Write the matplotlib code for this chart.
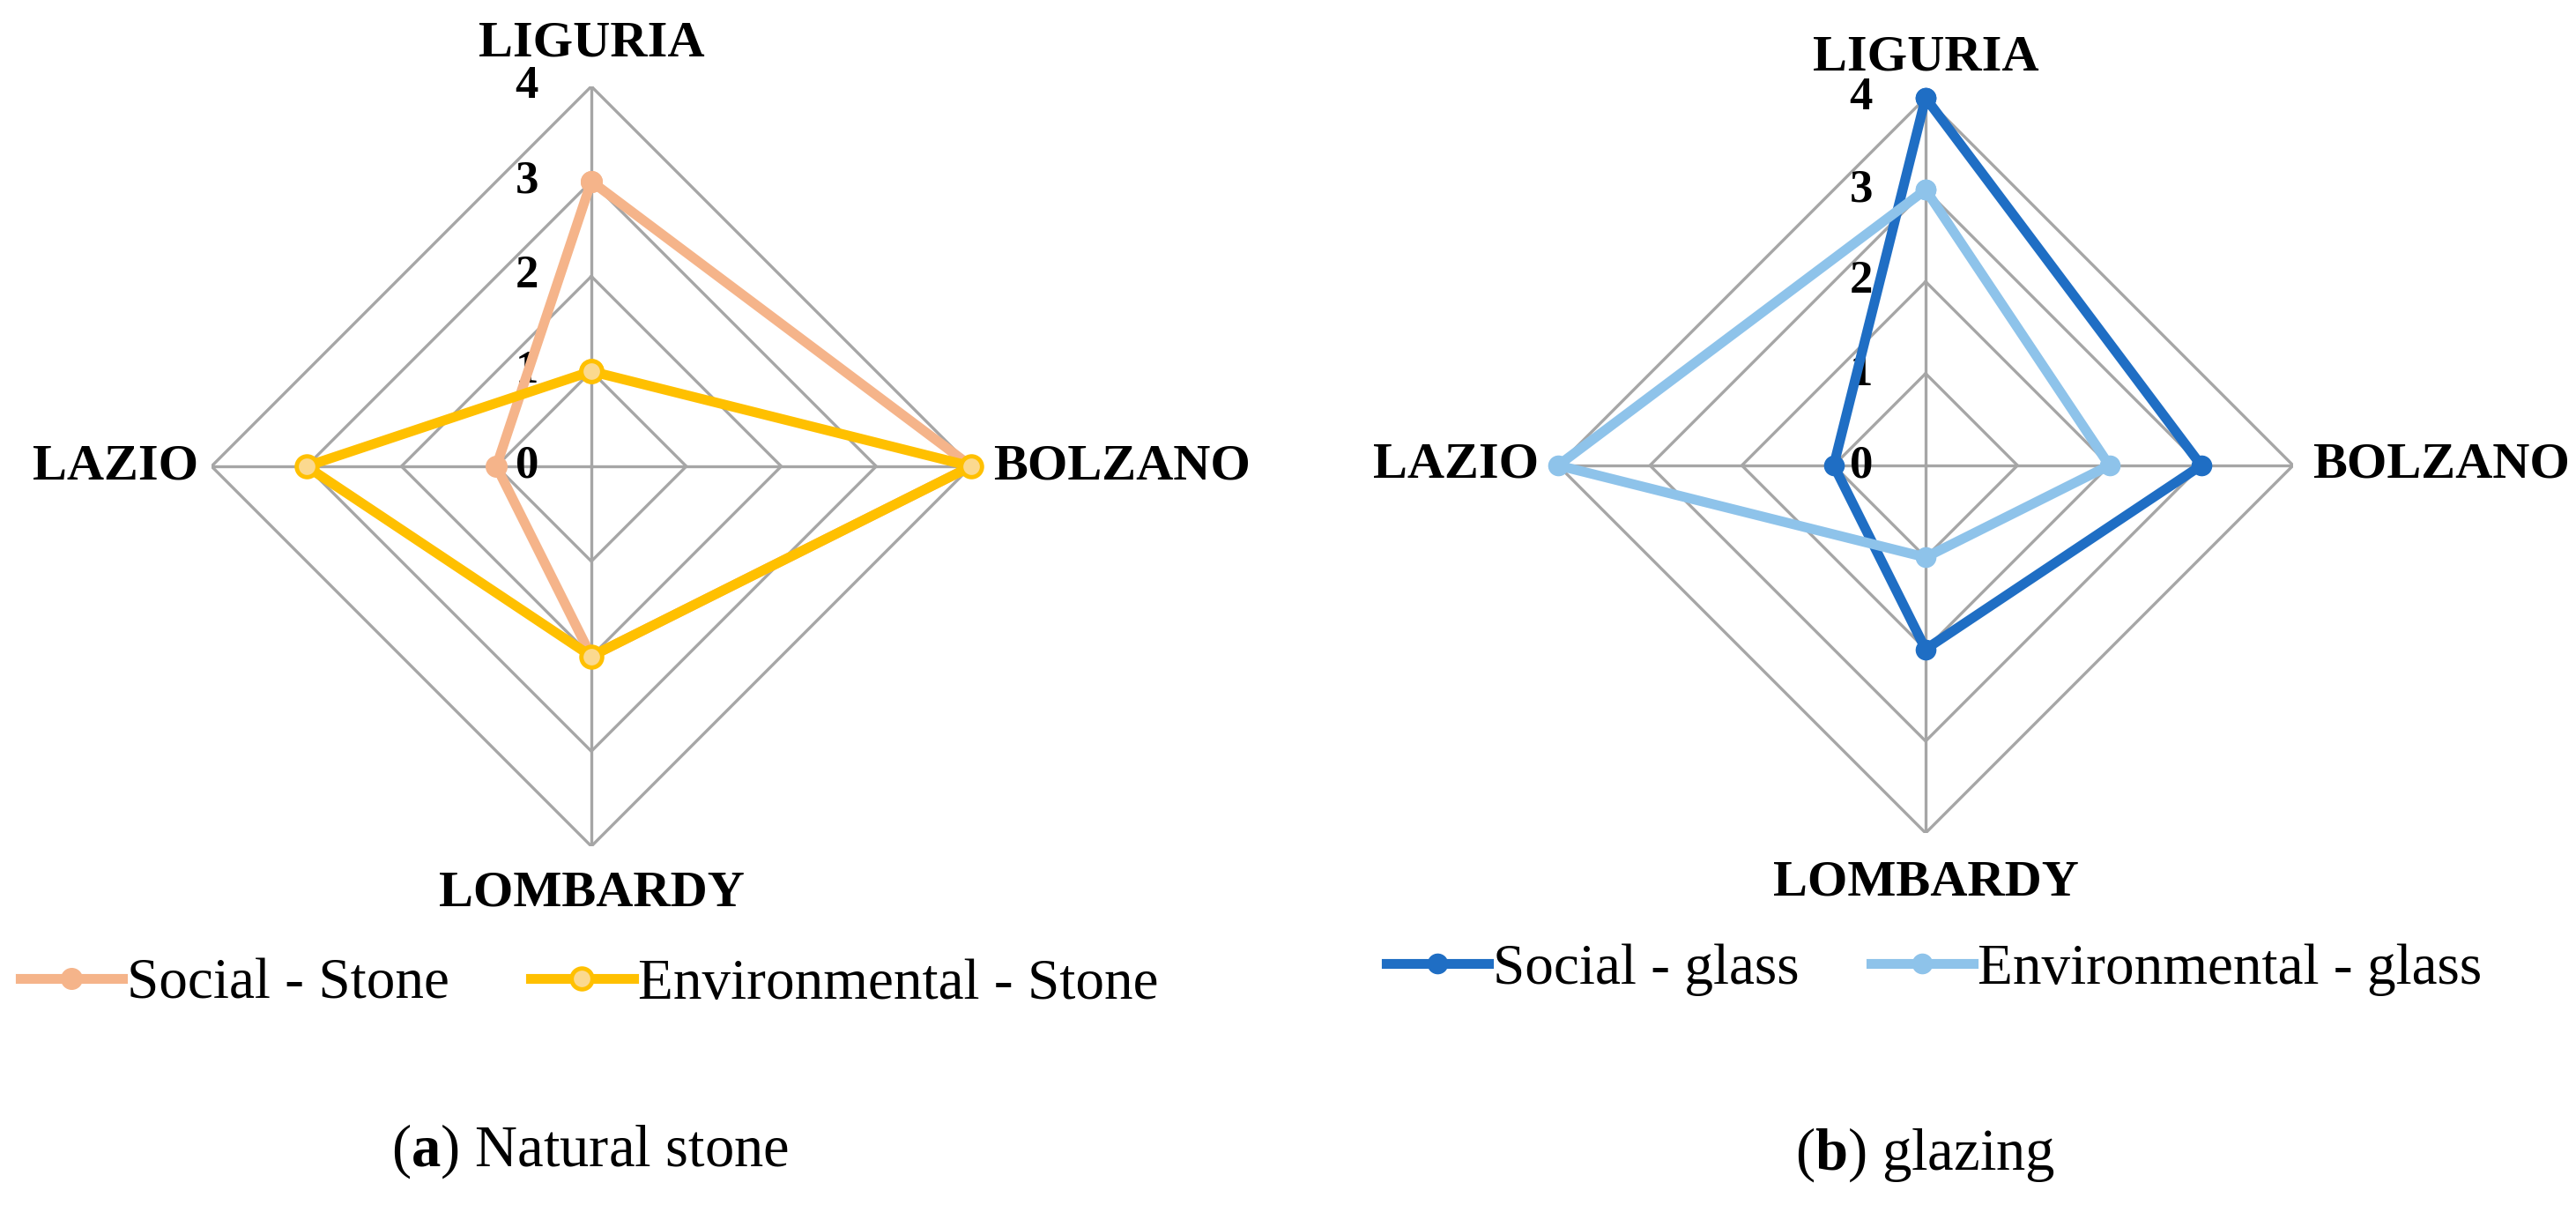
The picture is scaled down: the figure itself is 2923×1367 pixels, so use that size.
import numpy as np
import matplotlib
matplotlib.use("Agg")
import matplotlib.pyplot as plt

plt.rcParams['font.family'] = ['Liberation Serif', 'DejaVu Serif']
plt.rcParams['mathtext.fontset'] = 'custom'
plt.rcParams['mathtext.rm'] = 'Liberation Serif'
plt.rcParams['mathtext.bf'] = 'Liberation Serif:bold'

# data
regions = ['LIGURIA', 'BOLZANO', 'LOMBARDY', 'LAZIO']
ticks = [0, 1, 2, 3, 4]

social_stone = [3, 4, 2, 1]
env_stone = [1, 4, 2, 3]
social_glass = [4, 3, 2, 1]
env_glass = [3, 2, 1, 4]

labels_stone = ['Social - Stone', 'Environmental - Stone']
labels_glass = ['Social - glass', 'Environmental - glass']
captions = ['($\\mathbf{a}$) Natural stone', '($\\mathbf{b}$) glazing']

W, H = 2923, 1367
fig = plt.figure(figsize=(W / 100, H / 100), dpi=100)

angles = np.deg2rad([0, 90, 180, 270])
closed = np.append(angles, angles[0])

GRID = '#A6A6A6'


def radar(cx, cy, R, series, styles, label_off):
    ax = fig.add_axes([(cx - R) / W, (H - cy - R) / H, 2 * R / W, 2 * R / H],
                      projection='polar')
    ax.set_theta_zero_location('N')
    ax.set_theta_direction(-1)
    ax.set_ylim(0, 4)
    ax.grid(False)
    ax.spines['polar'].set_visible(False)
    ax.set_xticks([])
    ax.set_yticks([])
    ax.patch.set_alpha(0)

    # diamond grid
    for r in ticks[1:]:
        ax.plot(closed, [r] * 5, color=GRID, lw=2.4, zorder=1)
    for a in angles:
        ax.plot([a, a], [0, 4], color=GRID, lw=2.4, zorder=1)

    # tick labels, left of the vertical axis
    for t in ticks:
        ax.annotate(str(t), xy=(0, t), xytext=(-60, 0), textcoords='offset pixels',
                    ha='right', va='center', fontsize=38, fontweight='bold',
                    annotation_clip=False)

    # category labels
    offs = [(0, label_off[0], 'center', 'baseline'),
            (label_off[1], 0, 'left', 'center'),
            (0, -label_off[2], 'center', 'top'),
            (-label_off[3], 0, 'right', 'center')]
    for a, name, (dx, dy, ha, va) in zip(angles, regions, offs):
        ax.annotate(name, xy=(a, 4), xytext=(dx, dy), textcoords='offset pixels',
                    ha=ha, va=va, fontsize=42, fontweight='bold',
                    annotation_clip=False)

    handles = []
    for vals, st in zip(series, styles):
        h, = ax.plot(closed, vals + vals[:1], color=st['c'], lw=8,
                     marker='o', ms=st['ms'], mfc=st['mfc'], mec=st['c'],
                     mew=st['mew'], zorder=3, clip_on=False)
        handles.append(h)
    return ax, handles


stone_styles = [dict(c='#F5B48A', mfc='#F5B48A', ms=17, mew=1),
                dict(c='#FFC000', mfc='#FBD98F', ms=17, mew=3.5)]
glass_styles = [dict(c='#1F6EC4', mfc='#1F6EC4', ms=16, mew=1),
                dict(c='#8EC3EA', mfc='#8EC3EA', ms=16, mew=1)]

ax1, h1 = radar(671, 529, 431, [social_stone, env_stone], stone_styles,
                [35, 25, 27, 15])
ax2, h2 = radar(2185, 528, 417, [social_glass, env_glass], glass_styles,
                [31, 22, 31, 22])

leg_kw = dict(ncol=2, frameon=False, fontsize=47, handlelength=1.78,
              handletextpad=0.08, borderpad=0, borderaxespad=0,
              loc='center left', numpoints=1)
fig.legend(h1, labels_stone, bbox_to_anchor=(23 / W, 1 - 1117 / H),
           columnspacing=1.41, **leg_kw)
fig.legend(h2, labels_glass, bbox_to_anchor=(1573 / W, 1 - 1100 / H),
           columnspacing=1.24, **leg_kw)

fig.text(670 / W, 1 - 1306 / H, captions[0], ha='center', va='center', fontsize=48)
fig.text(2184 / W, 1 - 1310 / H, captions[1], ha='center', va='center', fontsize=48)

fig.savefig('out.png', dpi=100, facecolor='white')
